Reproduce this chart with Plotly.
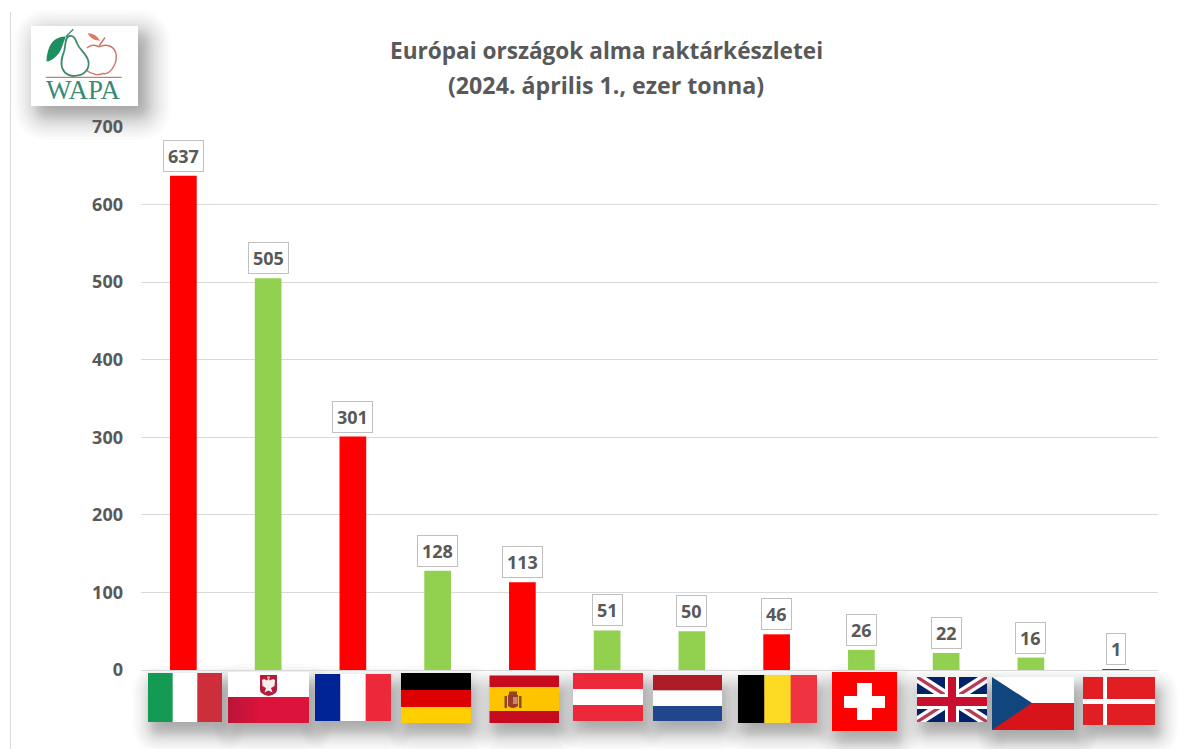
import re
import plotly.graph_objects as go

# Apple stocks by country, thousand tonnes
countries = ["Olaszország", "Lengyelország", "Franciaország", "Németország", "Spanyolország", "Ausztria",
             "Hollandia", "Belgium", "Svájc", "Egyesült Királyság", "Csehország", "Dánia"]
stocks = [637, 505, 301, 128, 113, 51, 50, 46, 26, 22, 16, 1]
RED, GREEN = "#ff0000", "#92d050"
bar_colors = [RED, GREEN, RED, GREEN, RED, GREEN, GREEN, RED, GREEN, GREEN, GREEN, RED]
y_ticks = [0, 100, 200, 300, 400, 500, 600, 700]
title_lines = ["Európai országok alma raktárkészletei", "(2024. április 1., ezer tonna)"]

TEXT = "#595959"
GRID = "#d9d9d9"
FONT = "Open Sans"
L, R, T, B = 141, 1158, 127, 670   # plot area in page pixels


def px(x, y):
    return (x - L) / (R - L), (B - y) / (B - T)


def path(d):
    """Turn a path written in page pixels ("x,y" pairs) into paper coordinates."""
    def conv(m):
        a, b = px(float(m.group(1)), float(m.group(2)))
        return f"{a:.5f},{b:.5f}"
    return re.sub(r"(-?[\d.]+),(-?[\d.]+)", conv, d)


shapes = []


def fill(d, color, layer="above", opacity=1):
    shapes.append(dict(type="path", xref="paper", yref="paper", path=path(d), fillcolor=color,
                       line=dict(width=0), layer=layer, opacity=opacity))


def stroke(d, color, width=1.0):
    shapes.append(dict(type="path", xref="paper", yref="paper", path=path(d),
                       fillcolor="rgba(0,0,0,0)", line=dict(color=color, width=width), layer="above"))


def rect(x0, y0, x1, y1, color, **kw):
    fill(f"M{x0},{y0} L{x1},{y0} L{x1},{y1} L{x0},{y1} Z", color, **kw)


def soft_shadow(x0, y0, x1, y1, dx, dy, blur, steps=28, alpha=0.02):
    """Stack of translucent rounded rectangles that reads as a blurred drop shadow."""
    half_w = (x1 - x0) / 2
    half_h = (y1 - y0) / 2
    for i in range(steps):
        t = 1 - 2 * i / (steps - 1)
        # outer layers are spaced wider so the fall-off tapers out
        g = blur * (0.55 * t + 0.45 * t ** 3)
        if -g >= min(half_w, half_h) - 1:
            continue
        a, b, c, d = x0 + dx - g, y0 + dy - g, x1 + dx + g, y1 + dy + g
        r = max(min(max(g, 0) + blur * 0.5, (c - a) / 2, (d - b) / 2), 0.5)
        fill(f"M{a + r},{b} L{c - r},{b} Q{c},{b} {c},{b + r} L{c},{d - r} Q{c},{d} {c - r},{d} "
             f"L{a + r},{d} Q{a},{d} {a},{d - r} L{a},{b + r} Q{a},{b} {a + r},{b} Z",
             "#2a2a2a", layer="below", opacity=alpha)


def vbands(box, cols):
    x0, y0, x1, y1 = box
    w = (x1 - x0) / len(cols)
    for i, c in enumerate(cols):
        rect(x0 + i * w, y0, x0 + (i + 1) * w + (0.3 if i < len(cols) - 1 else 0), y1, c)


def hbands(box, cols, cuts):
    x0, y0, x1, y1 = box
    edges = [y0] + cuts + [y1]
    for i, c in enumerate(cols):
        rect(x0, edges[i], x1, edges[i + 1], c)


# Flag outlines in page pixels
flag_boxes = dict(
    it=(148, 673, 222, 722), pl=(228, 672, 309, 723), fr=(315, 674, 391, 721),
    de=(401, 673, 471, 723), es=(489.5, 675.5, 559, 723), at=(573, 673, 643, 721),
    nl=(653, 675, 722, 721), be=(738, 675, 817, 723), ch=(832, 672, 897, 731),
    gb=(917, 677, 987, 722), cz=(992, 677, 1074, 730), dk=(1083, 677, 1155, 725),
)
for box in flag_boxes.values():
    soft_shadow(*box, dx=4, dy=11, blur=19)

vbands(flag_boxes["it"], ["#149a52", "#ffffff", "#cd2e3a"])

# Poland with its shield and eagle
b = flag_boxes["pl"]
hbands(b, ["#ffffff", "#dc143c"], [697])
for i in range(6):
    rect(b[0] + i * 5, 697, b[0] + i * 5 + 5, b[3], "#7a1030", opacity=0.30 - i * 0.05)
fill("M260,675 L277,675 L277,690 Q277,694 268.5,696 Q260,694 260,690 Z", "#b81a3c")
fill("M268.5,678.5 L270,680.5 Q273,678.5 275,680 L274.5,686 L271,688 L272.5,692.5 L268.5,690.5 L264.5,692.5 "
     "L266,688 L262.5,686 L262,680 Q264,678.5 267,680.5 Z", "#f4f0ee")
rect(267, 676.5, 270, 678.5, "#e8c860")

vbands(flag_boxes["fr"], ["#002395", "#ffffff", "#ed2939"])
hbands(flag_boxes["de"], ["#000000", "#dd0000", "#ffce00"], [690, 707])

# Spain with a simplified coat of arms
hbands(flag_boxes["es"], ["#c60b1e", "#ffc400", "#c60b1e"], [687, 711])
fill("M508,695 L518,695 L518,706 Q513,710 508,706 Z", "#a03a28")
rect(504.5, 696, 507, 708, "#8a4a20")
rect(519, 696, 521.5, 708, "#8a4a20")
rect(509, 691.5, 517, 695, "#8a4a20")
rect(513, 697, 517.5, 704, "#c88878")

hbands(flag_boxes["at"], ["#ed2939", "#ffffff", "#ed2939"], [689, 705])
hbands(flag_boxes["nl"], ["#ae1c28", "#ffffff", "#21468b"], [690.5, 706])
vbands(flag_boxes["be"], ["#000000", "#fdda24", "#ef3340"])

# Switzerland
rect(*flag_boxes["ch"], "#ff0000")
rect(857, 683, 872, 720, "#ffffff")
rect(844, 696, 885, 708, "#ffffff")

# Union Jack
x0, y0, x1, y1 = flag_boxes["gb"]
rect(x0, y0, x1, y1, "#012169")
fill(f"M{x0},{y0} L{x0 + 9},{y0} L{x1},{y1 - 6} L{x1},{y1} L{x1 - 9},{y1} L{x0},{y0 + 6} Z", "#ffffff")
fill(f"M{x1},{y0} L{x1 - 9},{y0} L{x0},{y1 - 6} L{x0},{y1} L{x0 + 9},{y1} L{x1},{y0 + 6} Z", "#ffffff")
fill(f"M{x0},{y0} L{x0 + 3},{y0} L{x1},{y1 - 2} L{x1},{y1} L{x1 - 3},{y1} L{x0},{y0 + 2} Z", "#b83a55")
fill(f"M{x1},{y0} L{x1 - 3},{y0} L{x0},{y1 - 2} L{x0},{y1} L{x0 + 3},{y1} L{x1},{y0 + 2} Z", "#b83a55")
rect(945, y0, 959, y1, "#ffffff")
rect(x0, 694, x1, 709, "#ffffff")
rect(948, y0, 956, y1, "#c8102e")
rect(x0, 697, x1, 706, "#c8102e")

# Czechia
b = flag_boxes["cz"]
hbands(b, ["#ffffff", "#d7141a"], [703])
fill(f"M{b[0]},{b[1]} L1032,703 L{b[0]},{b[3]} Z", "#11457e")

# Denmark
rect(*flag_boxes["dk"], "#e01e24")
rect(1103, 677, 1107, 725, "#ffffff")
rect(1083, 699, 1155, 704, "#ffffff")

# Logo plate with pear, apple and rule
soft_shadow(31, 26, 138, 106, dx=8, dy=9, blur=25, steps=32, alpha=0.02)
rect(31, 26, 138, 106, "#ffffff")
PEAR, LEAF = "#3f8a6c", "#1f8f5f"
APPLE, APPLE_LEAF = "#c8766a", "#e07a5f"
stroke("M99,47 C106,43 116,46 116.3,56 C116.5,66 109,75 103,73.5 C99,75.5 92,75 86,70", APPLE, 1.4)
stroke("M99,47 C95,44 90,45 87,48", APPLE, 1.4)
stroke("M99,46 L105,37.5", APPLE, 1.4)
fill("M87.7,33.3 C93,32.7 98,36.7 100,40.7 C95,40.7 90,38.3 87.7,33.3 Z", APPLE_LEAF)
stroke("M69.3,36 C65,36.7 65.7,45 64.3,50.7 C62.3,56 60,61.7 62.3,68.3 C65,75 71.7,76.7 76.7,75.7 "
       "C85,75 90,68.3 88.3,60.7 C86,53.3 80,50 77.3,44 C75,38.3 74.3,35.3 69.3,36 Z", PEAR, 1.8)
fill("M65.7,36.5 C57,36.5 47.5,41 46.5,61.5 C52,61.5 59,55 61.5,48.3 C63,44 64.5,40.5 65.7,36.5 Z", LEAF)
stroke("M65.7,36.7 L73.3,29.3", PEAR, 1.3)
stroke("M45.7,77.3 L121.7,77.3", "#b9827a", 1.2)

fig = go.Figure(go.Bar(x=countries, y=stocks, width=0.315, marker=dict(color=bar_colors, line=dict(width=0))))

annotations = [
    dict(x=c, y=v, xref="x", yref="y", text=str(v), showarrow=False, yanchor="bottom", yshift=4,
         font=dict(family=FONT, size=18, color=TEXT, weight=700), bgcolor="#ffffff",
         bordercolor="#bfbfbf", borderwidth=1, borderpad=4, height=22)
    for c, v in zip(countries, stocks)
]
for line, yy, size in zip(title_lines, (51, 85), (22.6, 23.2)):
    xp, yp = px(606, yy)
    annotations.append(dict(x=xp, y=yp, xref="paper", yref="paper", text=line, showarrow=False,
                            xanchor="center", yanchor="middle",
                            font=dict(family=FONT, size=size, color=TEXT, weight=700)))
xp, yp = px(83.5, 90)
annotations.append(dict(x=xp, y=yp, xref="paper", yref="paper", text="WAPA", showarrow=False,
                        xanchor="center", yanchor="middle",
                        font=dict(family="Liberation Serif", size=27, color="#3b8a73")))

fig.update_layout(
    width=1200, height=749,
    margin=dict(l=L, r=1200 - R, t=T, b=749 - B, autoexpand=False),
    paper_bgcolor="#ffffff", plot_bgcolor="rgba(0,0,0,0)",
    showlegend=False, shapes=shapes, annotations=annotations,
    xaxis=dict(showticklabels=False, ticks="", showgrid=False, showline=True, linecolor=GRID, linewidth=1,
               zeroline=False, range=[-0.5, 11.5]),
    yaxis=dict(range=[0, 700], tickvals=y_ticks, showgrid=True, gridcolor=GRID, gridwidth=1, zeroline=False,
               showline=False, ticks="", ticklabelstandoff=17,
               tickfont=dict(family=FONT, size=18, color=TEXT, weight=700)),
)
# Thin rule along the left edge of the slide
x_a, y_a = px(10.5, 12)
x_b, y_b = px(10.5, 749)
fig.add_shape(type="line", xref="paper", yref="paper", x0=x_a, y0=y_a, x1=x_b, y1=y_b,
              line=dict(color="#d9d9d9", width=1))

fig.write_html("out.html")
